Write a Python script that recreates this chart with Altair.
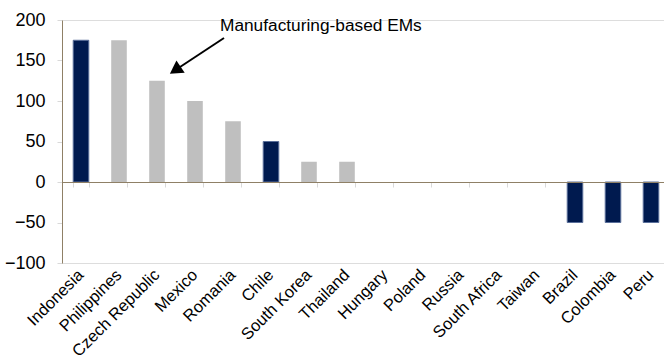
import altair as alt
import pandas as pd

countries = ["Indonesia", "Philippines", "Czech Republic", "Mexico", "Romania", "Chile",
             "South Korea", "Thailand", "Hungary", "Poland", "Russia", "South Africa",
             "Taiwan", "Brazil", "Colombia", "Peru"]
values = [175, 175, 125, 100, 75, 50, 25, 25, 0, 0, 0, 0, 0, -50, -50, -50]
groups = ["other", "manufacturing", "manufacturing", "manufacturing", "manufacturing", "other",
          "manufacturing", "manufacturing", "manufacturing", "manufacturing", "manufacturing",
          "manufacturing", "manufacturing", "other", "other", "other"]
annotation_text = "Manufacturing-based EMs"

df = pd.DataFrame({"country": countries, "value": values, "group": groups})

FONT = "Liberation Sans"
AXIS_COL = "#8f8066"
TICK_COL = "#d9d9d9"

xscale = alt.Scale(domain=countries, range=[0, 608], paddingInner=0.59, paddingOuter=0.295)
yscale = alt.Scale(domain=[-100, 200], nice=False, zero=False)

yaxis = alt.Axis(values=[-100, -50, 0, 50, 100, 150, 200], grid=False, domainColor=AXIS_COL,
                 tickColor=TICK_COL, tickSize=5, labelFont=FONT, labelFontSize=18,
                 labelColor="#000000", labelPadding=12, title=None)

base = alt.Chart(df)

bars = base.mark_bar(strokeWidth=1).encode(
    x=alt.X("country:N", scale=xscale, sort=countries,
            axis=alt.Axis(orient="bottom", offset=-81, labels=False, domainColor=AXIS_COL,
                          tickColor=TICK_COL, tickSize=5, tickBand="extent", title=None,
                          zindex=1)),
    y=alt.Y("value:Q", scale=yscale, axis=yaxis),
    color=alt.Color("group:N", scale=alt.Scale(domain=["other", "manufacturing"],
                                               range=["#001a4f", "#bfbfbf"]), legend=None),
    stroke=alt.Stroke("group:N", scale=alt.Scale(domain=["other", "manufacturing"],
                                                 range=["#5a6f9a", "transparent"]), legend=None),
)

labels_layer = base.mark_bar(opacity=0, strokeOpacity=0).encode(
    x=alt.X("country:N", scale=xscale, sort=countries,
            axis=alt.Axis(orient="bottom", domain=False, ticks=False, labelAngle=-45,
                          labelAlign="right", labelBaseline="middle", labelPadding=9,
                          labelFont=FONT, labelFontSize=16.5, labelColor="#000000",
                          labelOverlap=False, title=None)),
    y=alt.Y("value:Q", scale=yscale, axis=yaxis),
)

ann = pd.DataFrame({"label": [annotation_text]})
text = alt.Chart(ann).mark_text(align="left", baseline="middle", font=FONT, fontSize=17.3,
                                color="#000000").encode(
    text="label:N", x=alt.value(158), y=alt.value(6))

arrow_line = alt.Chart(ann).mark_rule(color="#000000", strokeWidth=2).encode(
    x=alt.value(162), y=alt.value(18), x2=alt.value(118), y2=alt.value(47))
arrow_head = alt.Chart(ann).mark_point(shape="triangle", filled=True, color="#000000",
                                       size=220, angle=236, opacity=1).encode(
    x=alt.value(115), y=alt.value(49))

chart = alt.layer(bars, labels_layer, arrow_line, arrow_head, text).resolve_axis(
    x="independent").properties(
    width=602, height=243,
    autosize=alt.AutoSizeParams(type="none"),
    padding={"left": 62, "top": 20, "right": 0, "bottom": 101},
).configure_view(stroke=None).configure(background="white")

chart.save("out.html", embed_options={"renderer": "svg", "actions": False})
